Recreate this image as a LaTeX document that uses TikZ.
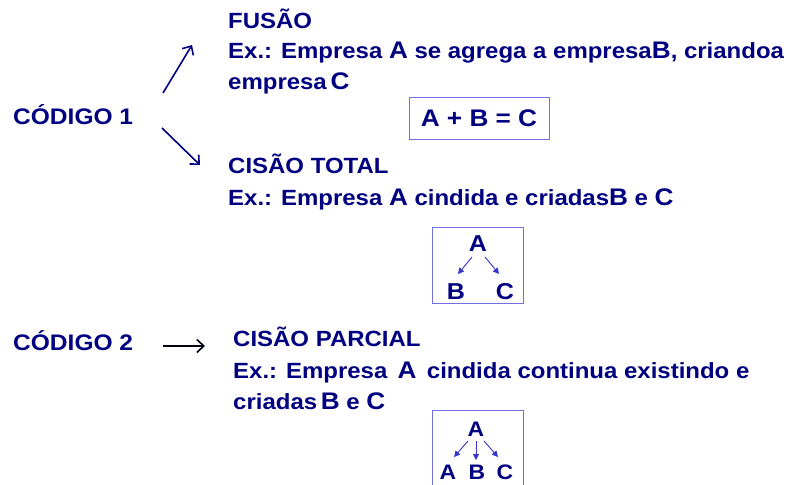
\documentclass[tikz,border=0pt]{standalone}
\usepackage{fontspec}
\setmainfont{Liberation Sans}[FakeStretch=1.09]
\usetikzlibrary{arrows.meta}
\definecolor{navy}{HTML}{000080}
\definecolor{boxline}{HTML}{7070E0}
\definecolor{smallarr}{HTML}{3535CC}
\newcommand{\bigL}[1]{{\fontsize{24}{26}\selectfont #1}}
\tikzset{
  txt/.style={anchor=base west, inner sep=0pt, text=navy, font=\fontsize{22}{24}\selectfont\bfseries},
  code/.style={anchor=base west, inner sep=0pt, text=navy, font=\fontsize{22.5}{24}\selectfont\bfseries},
  letter/.style={inner sep=0pt, text=navy, font=\fontsize{23}{25}\selectfont\bfseries},
  sletter/.style={inner sep=0pt, text=navy, font=\fontsize{21}{23}\selectfont\bfseries},
  bigarrow/.style={draw=navy, line width=1.6pt, -{Straight Barb[length=7pt,width=13pt,line width=1.6pt]}},
  smallarrow/.style={draw=smallarr, line width=0.9pt, -{Triangle[length=6pt,width=6pt]}},
  frame/.style={draw=boxline, line width=1pt}
}
\begin{document}
\begin{tikzpicture}[x=1pt,y=-1pt]
\fill[white] (0,0) rectangle (796,485);
\useasboundingbox (0,0) rectangle (796,485);
\clip (0,0) rectangle (796,485);

% left labels
\node[code] (c1) at (13,124) {CÓDIGO 1};
\node[code] (c2) at (13,350) {CÓDIGO 2};

% arrows from codes
\coordinate (u1) at (163,93);
\coordinate (u2) at (192,45);
\coordinate (d1) at (162,128);
\coordinate (d2) at (200,165);
\coordinate (r1) at (163,346);
\coordinate (r2) at (205,346);
\draw[bigarrow] (u1) -- (u2);
\draw[bigarrow] (d1) -- (d2);
\draw[bigarrow, draw=black!85!navy] (r1) -- (r2);

% FUSAO
\node[txt] (fus) at (228,28) {FUSÃO};
\node[txt] (ex1) at (228,58) {Ex.: Empresa \bigL{A} se agrega a empresa\bigL{B}, criandoa};
\node[txt] (ex1b) at (228,89) {empresa\,\bigL{C}};
\node[frame, minimum width=140pt, minimum height=42pt, inner sep=0pt] (b1) at (479,118) {};
\node[letter, font=\fontsize{24}{26}\selectfont\bfseries] (eq) at (b1.center) {A + B = C};

% CISAO TOTAL
\node[txt] (ct) at (228,173) {CISÃO TOTAL};
\node[txt] (ex2) at (228,205) {Ex.: Empresa \bigL{A} cindida e criadas\bigL{B} e \bigL{C}};
\node[frame, minimum width=91pt, minimum height=76pt, inner sep=0pt] (b2) at (477.5,265) {};
\node[letter] (a2) at (478,244) {A};
\node[letter] (b2b) at (456,292) {B};
\node[letter] (c2c) at (505,292) {C};
\draw[smallarrow] (472,257) -- (458,274);
\draw[smallarrow] (485,257) -- (499,274);

% CISAO PARCIAL
\node[txt] (cp) at (233,346) {CISÃO PARCIAL};
\node[txt] (ex3) at (233,378) {Ex.: Empresa \,\bigL{A}\, cindida continua existindo e};
\node[txt] (ex3b) at (233,409) {criadas\,\bigL{B} e \bigL{C}};
\draw[frame] (432,495) -- (432,410) -- (523,410) -- (523,495);
\node[sletter] (a3) at (476,429) {A};
\node[sletter] (a3b) at (448,472) {A};
\node[sletter] (b3) at (477,472) {B};
\node[sletter] (c3) at (505,472) {C};
\draw[smallarrow] (468,441) -- (454,457);
\draw[smallarrow] (476,441) -- (476,460);
\draw[smallarrow] (484,441) -- (498,457);
\end{tikzpicture}
\end{document}
